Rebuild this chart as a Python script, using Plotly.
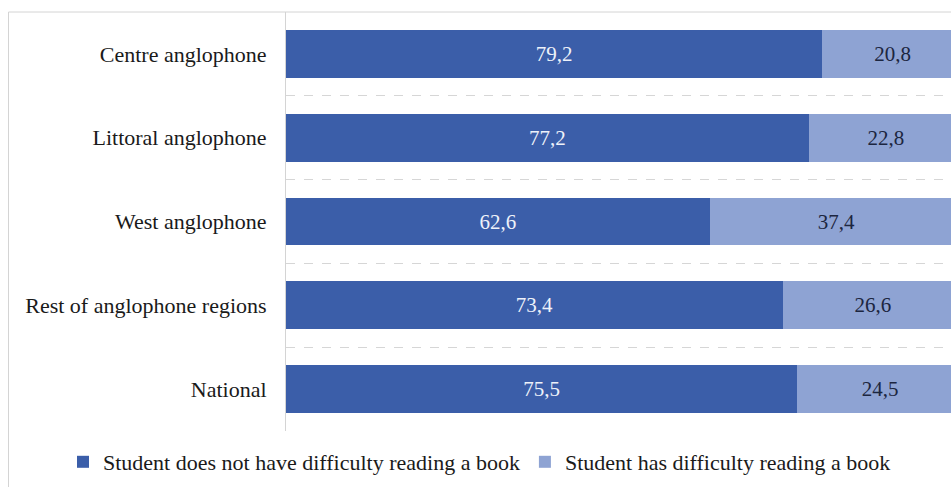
import plotly.graph_objects as go

categories = ["Centre anglophone", "Littoral anglophone", "West anglophone",
              "Rest of anglophone regions", "National"]
no_difficulty = [79.2, 77.2, 62.6, 73.4, 75.5]
has_difficulty = [20.8, 22.8, 37.4, 26.6, 24.5]
series_names = ["Student does not have difficulty reading a book",
                "Student has difficulty reading a book"]

FONT = "Liberation Serif"
DARK = "#3b5ea9"
LIGHT = "#8ea3d3"

# the original chart is cropped on the right: the plot area runs past the viewport
W, H = 963, 487
L, R, T, B = 286, 0, 12, 56
pw = W - L - R
ph = H - T - B

fig = go.Figure()
fig.add_trace(go.Bar(
    y=categories, x=no_difficulty, orientation="h", name=series_names[0],
    marker=dict(color=DARK, line=dict(width=0)),
    texttemplate="%{x:.1f}", textposition="inside", insidetextanchor="middle",
    textfont=dict(family=FONT, size=21, color="#eef2fa"),
))
fig.add_trace(go.Bar(
    y=categories, x=has_difficulty, orientation="h", name=series_names[1],
    marker=dict(color=LIGHT, line=dict(width=0)),
    texttemplate="%{x:.1f}", textposition="inside", insidetextanchor="middle",
    textfont=dict(family=FONT, size=21, color="#1c2640"),
))

# outer frame
fig.add_shape(type="rect", xref="paper", yref="paper",
              x0=(8.5 - L) / pw, x1=1.05, y0=-(H + 10 - T - ph) / ph, y1=1,
              line=dict(color="#d4d4d4", width=1), fillcolor="rgba(0,0,0,0)",
              layer="below")

fig.update_layout(
    width=W, height=H,
    margin=dict(l=L, r=R, t=T, b=B, pad=0),
    barmode="stack", bargap=0.43,
    separators=", ",
    paper_bgcolor="white", plot_bgcolor="white",
    font=dict(family=FONT, size=22, color="#1a1a1a"),
    showlegend=True,
    legend=dict(orientation="h", traceorder="normal",
                x=(63 - L) / pw, xanchor="left",
                y=-(462 - T - ph) / ph, yanchor="middle",
                font=dict(family=FONT, size=22, color="#1a1a1a"),
                itemwidth=30, tracegroupgap=0, bgcolor="rgba(0,0,0,0)"),
    xaxis=dict(range=[0, 100], visible=False, fixedrange=True),
    yaxis=dict(categoryorder="array", categoryarray=categories,
               autorange="reversed", tickson="boundaries",
               showgrid=True, gridcolor="#d6d6d6", griddash="dash", gridwidth=1,
               showline=True, linecolor="#d4d4d4", linewidth=1,
               ticks="", ticklabelstandoff=14, fixedrange=True,
               tickfont=dict(family=FONT, size=22, color="#1a1a1a")),
)

fig.write_html(
    "out.html",
    config={"displayModeBar": False},
    post_script="document.body.style.margin='0';document.body.style.overflow='hidden';"
                "document.documentElement.style.overflow='hidden';",
)
